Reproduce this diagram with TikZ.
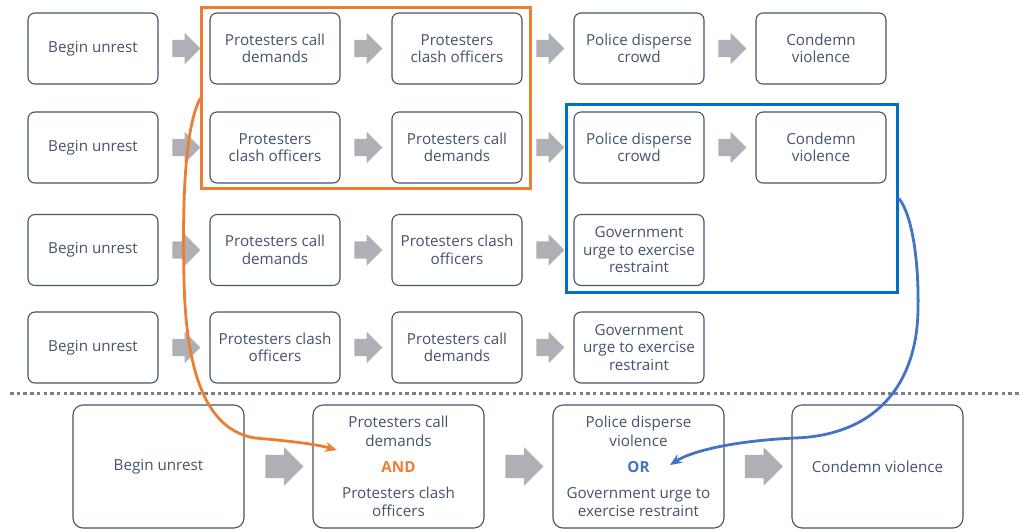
\documentclass[tikz,border=0pt]{standalone}
\usepackage{fontspec}
\setmainfont{Open Sans}
\usetikzlibrary{shapes.arrows,fit,calc,arrows.meta}
\definecolor{txtgray}{HTML}{44546A}
\definecolor{arrgray}{HTML}{AEB0B5}
\definecolor{andorange}{HTML}{ED7D31}
\definecolor{grpblue}{HTML}{0070C0}
\definecolor{orblue}{HTML}{4472C4}
\definecolor{sepgray}{HTML}{7F7F7F}
\tikzset{
  event/.style={draw=txtgray, line width=1.1pt, rounded corners=7pt, minimum width=130pt, minimum height=71pt,
    align=center, text=txtgray, font=\fontsize{15.2}{17.5}\selectfont, inner sep=2pt},
  bigevent/.style={event, minimum width=171pt, minimum height=123pt, rounded corners=10pt,
    font=\fontsize{15.2}{18.5}\selectfont},
  flowarrow/.style={single arrow, fill=arrgray, draw=none, minimum height=28pt, inner xsep=0pt,
    inner ysep=8.5pt, single arrow head extend=7pt},
  bigflowarrow/.style={flowarrow, minimum height=38pt, inner ysep=11.5pt, single arrow head extend=7.5pt},
  group/.style={draw, line width=3pt, inner sep=0pt},
  sepline/.style={sepgray, line width=3pt, dash pattern=on 3.5pt off 3.2pt},
  link/.style={line width=2.8pt, ->}
}
\begin{document}
\begin{tikzpicture}[x=1pt, y=-1pt,
                    node distance=182pt,
                    >={Stealth[length=12pt,width=10pt]}
                    ]
  \useasboundingbox (0,0) rectangle (1022,531);

  % four orderings
  \node [event] (r1c1) at (93,48.5) {Begin unrest};
  \node [event, right of=r1c1] (r1c2) {Protesters call\\demands};
  \node [event, right of=r1c2] (r1c3) {Protesters\\clash officers};
  \node [event, right of=r1c3] (r1c4) {Police disperse\\crowd};
  \node [event, right of=r1c4] (r1c5) {Condemn\\violence};

  \node [event] (r2c1) at (93,147.5) {Begin unrest};
  \node [event, right of=r2c1] (r2c2) {Protesters\\clash officers};
  \node [event, right of=r2c2] (r2c3) {Protesters call\\demands};
  \node [event, right of=r2c3] (r2c4) {Police disperse\\crowd};
  \node [event, right of=r2c4] (r2c5) {Condemn\\violence};

  \node [event] (r3c1) at (93,250) {Begin unrest};
  \node [event, right of=r3c1] (r3c2) {Protesters call\\demands};
  \node [event, right of=r3c2] (r3c3) {Protesters clash\\officers};
  \node [event, right of=r3c3] (r3c4) {Government\\urge to exercise\\restraint};

  \node [event] (r4c1) at (93,347.5) {Begin unrest};
  \node [event, right of=r4c1] (r4c2) {Protesters clash\\officers};
  \node [event, right of=r4c2] (r4c3) {Protesters call\\demands};
  \node [event, right of=r4c3] (r4c4) {Government\\urge to exercise\\restraint};

  \foreach \rw/\upto in {1/4,2/4,3/3,4/3}
    \foreach \cl in {1,...,\upto} {
      \pgfmathtruncatemacro{\nx}{\cl+1}
      \node [flowarrow] (a\rw\cl) at ($(r\rw c\cl.east)!0.5!(r\rw c\nx.west)+(-2,0)$) {};
    }

  % groups
  \node [group, draw=andorange, fit=(r1c2)(r2c3), inner xsep=7.5pt, inner ysep=5pt] (orgrp) {};
  \node [group, draw=grpblue, minimum width=331pt, minimum height=188pt] (bluegrp) at (732,198.5) {};

  % separator
  \coordinate (sepL) at (10,393);
  \coordinate (sepR) at (1022,393);
  \draw [sepline] (sepL) -- (sepR);

  % merged sequence
  \node [bigevent] (b1) at (158.5,466.5) {Begin unrest};
  \node [bigevent, right of=b1, node distance=240pt] (b2) {Protesters call\\demands\\[8pt]\textcolor{andorange}{\textbf{AND}}\\[7pt]Protesters clash\\officers};
  \node [bigevent, right of=b2, node distance=240pt] (b3) {Police disperse\\violence\\[8pt]\textcolor{orblue}{\textbf{OR}}\\[7pt]Government urge to\\exercise restraint};
  \node [bigevent, right of=b3, node distance=239pt] (b4) {Condemn violence};

  \foreach \cl/\nx in {1/2,2/3,3/4}
    \node [bigflowarrow] (ba\cl) at ($(b\cl.east)!0.5!(b\nx.west)$) {};

  \coordinate (andtip) at (337,450);
  \coordinate (ortip) at (670,465);
  \draw [link, andorange] (orgrp.west) .. controls (186,125) and (182,190) .. (184,280)
        .. controls (186,370) and (205,430) .. (255,438) .. controls (290,441) and (315,444) .. (andtip);
  \draw [link, orblue] (bluegrp.east) .. controls (912,215) and (919,260) .. (918,310)
        .. controls (917,380) and (880,435) .. (795,438) .. controls (730,441) and (690,452) .. (ortip);
\end{tikzpicture}
\end{document}
